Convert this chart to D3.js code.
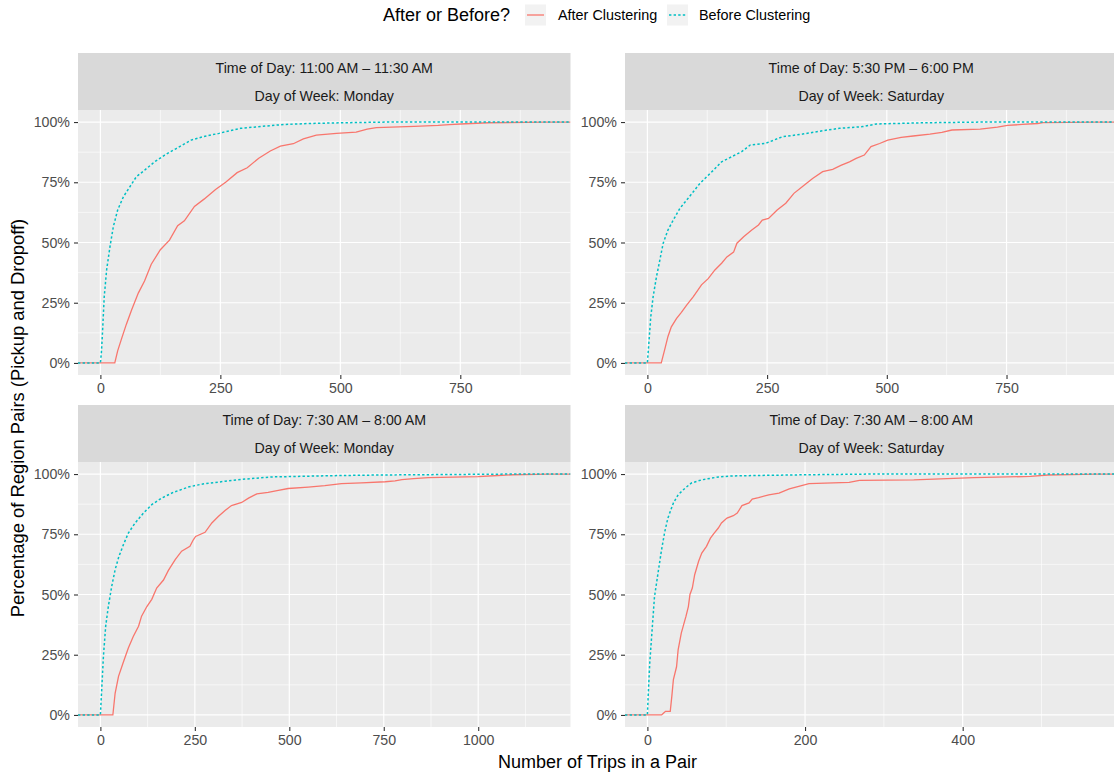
<!DOCTYPE html>
<html>
<head>
<meta charset="utf-8">
<title>ECDF of trips per region pair</title>
<script src="https://d3js.org/d3.v7.min.js"></script>
<style>
  body { margin: 0; padding: 0; background: #fff; overflow: hidden; }
  svg text { font-family: "Liberation Sans", Arial, Helvetica, sans-serif; }
</style>
</head>
<body>
<script>
// ---- data: [number of trips, cumulative %] ----
var tlAfter = [[30,0],[36,5],[44,10],[54,16],[65,22],[79,29],[92,34],[106,41],[125,47],[144,51],[161,57],[175,59],[196,65],[216,68],[240,72],[261,75],[285,79],[306,81],[330,85],[354,88],[375,90],[402,91],[423,93],[450,94.6],[492,95.3],[533,95.8],[556,97.1],[575,97.7],[654,98.2],[704,98.6],[727,98.9],[761,99.3],[809,99.7],[926,100]];
var tlBefore = [[0,0],[2,4],[4,11],[8,27.5],[13,38.6],[20,48.3],[27,56.6],[36,63.5],[48,69],[61,73],[75,77.3],[92,80],[113,83.5],[134,86.3],[158,89],[189,92.5],[216,94],[247,95.3],[292,97.4],[326,98],[382,99],[437,99.4],[505,99.7],[600,100]];

var trAfter = [[29,0],[36,5.4],[43,11],[50,15],[61,18.5],[71,21],[82,24],[96,27.5],[113,32.4],[127,35],[141,38.6],[155,41.4],[166,44],[180,46],[187,49.7],[201,52.4],[218,55.2],[232,57.3],[240,59.3],[253,60],[271,63.5],[289,66.3],[306,70.4],[324,73.2],[345,76.6],[366,79.4],[387,80.4],[404,82],[422,83.5],[436,84.9],[453,86.3],[467,89.8],[485,91.1],[502,92.5],[530,93.6],[555,94.2],[590,95],[615,95.7],[636,96.7],[695,97.1],[713,97.5],[731,97.9],[752,98.6],[783,99],[815,99.4],[826,99.8],[935,100]];
var trBefore = [[0,0],[3,8],[7,19],[12,27.5],[19,35.8],[26,42.7],[33,49.7],[43,55.2],[54,59.3],[68,64.2],[82,67.6],[96,71.1],[110,74.6],[124,77.3],[138,80],[155,83.5],[176,85.6],[197,87.7],[215,90.5],[246,91.1],[282,93.9],[324,95],[366,96.4],[401,97.4],[450,98.1],[478,99.2],[520,99.4],[576,99.7],[700,100]];

var blAfter = [[33,0],[39,9],[48,16],[60,21.6],[74,27.8],[87,32.6],[101,36.8],[109,41],[123,45],[136,48],[149,52.7],[167,56],[180,60],[198,64.5],[215,68],[237,70],[246,72.7],[252,74.1],[277,75.8],[295,79.7],[312,82.4],[330,84.9],[347,86.9],[374,88.2],[392,90],[414,91.8],[444,92.4],[471,93.2],[497,94],[550,94.6],[594,95.2],[638,96],[691,96.3],[754,96.8],[780,97.2],[798,97.7],[829,98.1],[868,98.5],[1000,98.9],[1053,99.4],[1093,99.7],[1185,100]];
var blBefore = [[0,0],[3.5,10.5],[8,24.3],[14,36.8],[21,45],[30,53.4],[39,60.3],[49,65.8],[61,70.7],[74,75.5],[92,79.7],[114,83.8],[136,87.3],[162,90],[193,92.4],[233,94.6],[268,95.8],[330,97],[383,97.9],[453,98.8],[515,99],[603,99.3],[735,99.6],[1093,100]];

var brAfter = [[18,0],[20,0.6],[23,1.5],[29,1.5],[31,7.7],[33,14.7],[37,20],[39,27],[43,34],[46,37.5],[49,41],[52,45],[54,50],[57,52.7],[60,58.2],[65,63.8],[69,67.2],[75,70],[80,73.4],[84,75.2],[90,77.6],[94,79.7],[101,81.7],[109,82.7],[114,83.8],[120,86.9],[129,88],[133,89.6],[141,90.2],[154,91.4],[167,92.1],[180,93.8],[192,94.9],[205,96],[256,96.5],[269,97.4],[338,97.6],[414,98.5],[486,99],[508,99.6],[568,100]];
var brBefore = [[0,0],[1,7.7],[3,21.6],[6,35.4],[9,49],[14,60],[18,68.6],[22,76],[26,81.7],[33,88],[39,91.4],[48,94.2],[56,96.3],[69,97.6],[90,98.8],[107,99.2],[137,99.4],[201,99.7],[286,100]];

var stripTimes = ["Time of Day: 11:00 AM \u2013 11:30 AM", "Time of Day: 5:30 PM \u2013 6:00 PM", "Time of Day: 7:30 AM \u2013 8:00 AM", "Time of Day: 7:30 AM \u2013 8:00 AM"];
var stripDays = ["Day of Week: Monday", "Day of Week: Saturday", "Day of Week: Monday", "Day of Week: Saturday"];
var xMaxes = [933, 935, 1185, 568];
var xTickSets = [[0,250,500,750], [0,250,500,750], [0,250,500,750,1000], [0,200,400]];
var yTicks = [0, 25, 50, 75, 100];
var seriesNames = ["After Clustering", "Before Clustering"];
var colors = ["#F8766D", "#00BFC4"];

var panels = [
  {after: tlAfter, before: tlBefore},
  {after: trAfter, before: trBefore},
  {after: blAfter, before: blBefore},
  {after: brAfter, before: brBefore}
];

// ---- layout ----
var W = 1114, H = 773;
var colX = [78, 625], panelW = 492.5;
var rowStrip = [53, 405], stripH = 57, panelH = 265;

var svg = d3.select("body").append("svg").attr("width", W).attr("height", H);

panels.forEach(function(p, i) {
  var col = i % 2, row = Math.floor(i / 2);
  var x0 = colX[col], sTop = rowStrip[row], pTop = sTop + stripH;
  var xm = xMaxes[i];
  var x = d3.scaleLinear().domain([-0.05 * xm, 1.05 * xm]).range([x0, x0 + panelW]);
  var y = d3.scaleLinear().domain([-5, 105]).range([pTop + panelH, pTop]);

  var g = svg.append("g");
  // strip
  g.append("rect").attr("x", x0).attr("y", sTop).attr("width", panelW).attr("height", stripH).attr("fill", "#d9d9d9");
  g.append("text").attr("x", x0 + panelW / 2).attr("y", sTop + 15).attr("dy", "0.35em")
    .attr("text-anchor", "middle").attr("font-size", 14.2).attr("fill", "#1a1a1a").text(stripTimes[i]);
  g.append("text").attr("x", x0 + panelW / 2).attr("y", sTop + 43).attr("dy", "0.35em")
    .attr("text-anchor", "middle").attr("font-size", 14.2).attr("fill", "#1a1a1a").text(stripDays[i]);

  // panel background
  g.append("rect").attr("x", x0).attr("y", pTop).attr("width", panelW).attr("height", panelH).attr("fill", "#ebebeb");

  var xt = xTickSets[i];
  var step = xt[1] - xt[0];
  var xMinor = [];
  for (var k = -1; k < xt.length + 1; k++) {
    var m = xt[0] + (k + 0.5) * step;
    if (m > x.domain()[0] && m < x.domain()[1]) xMinor.push(m);
  }
  var yMinor = [12.5, 37.5, 62.5, 87.5];

  g.selectAll(".ymin").data(yMinor).enter().append("line")
    .attr("x1", x0).attr("x2", x0 + panelW).attr("y1", d => y(d)).attr("y2", d => y(d))
    .attr("stroke", "#fff").attr("stroke-width", 0.6);
  g.selectAll(".xmin").data(xMinor).enter().append("line")
    .attr("y1", pTop).attr("y2", pTop + panelH).attr("x1", d => x(d)).attr("x2", d => x(d))
    .attr("stroke", "#fff").attr("stroke-width", 0.6);
  g.selectAll(".ymaj").data(yTicks).enter().append("line")
    .attr("x1", x0).attr("x2", x0 + panelW).attr("y1", d => y(d)).attr("y2", d => y(d))
    .attr("stroke", "#fff").attr("stroke-width", 1.2);
  g.selectAll(".xmaj").data(xt).enter().append("line")
    .attr("y1", pTop).attr("y2", pTop + panelH).attr("x1", d => x(d)).attr("x2", d => x(d))
    .attr("stroke", "#fff").attr("stroke-width", 1.2);

  // ecdf lines, extended to panel edges like stat_ecdf
  var clipId = "clip" + i;
  svg.append("clipPath").attr("id", clipId).append("rect")
    .attr("x", x0).attr("y", pTop).attr("width", panelW).attr("height", panelH);
  var line = d3.line().x(d => x(d[0])).y(d => y(d[1]));
  var lg = g.append("g").attr("clip-path", "url(#" + clipId + ")");
  [p.after, p.before].forEach(function(s, j) {
    var pts = [[x.domain()[0], 0]].concat(s).concat([[x.domain()[1], 100]]);
    lg.append("path").datum(pts).attr("d", line).attr("fill", "none")
      .attr("stroke", colors[j]).attr("stroke-width", j === 0 ? 1.3 : 1.5)
      .attr("stroke-dasharray", j === 0 ? null : "2.4,2.2");
  });

  // axes
  var xAxis = d3.axisBottom(x).tickValues(xt).tickSize(4).tickPadding(4).tickFormat(d3.format("d"));
  var ya = d3.axisLeft(y).tickValues(yTicks).tickSize(4).tickPadding(4).tickFormat(d => d + "%");
  var gx = g.append("g").attr("transform", "translate(0," + (pTop + panelH) + ")").call(xAxis);
  var gy = g.append("g").attr("transform", "translate(" + x0 + ",0)").call(ya);
  [gx, gy].forEach(function(a) {
    a.select(".domain").remove();
    a.selectAll(".tick line").attr("stroke", "#333").attr("stroke-width", 1.1);
    a.selectAll(".tick text").attr("fill", "#4d4d4d").attr("font-size", 14.2)
      .attr("font-family", "'Liberation Sans', Arial, Helvetica, sans-serif");
  });
});

// axis titles
svg.append("text").attr("x", 597.5).attr("y", 768).attr("text-anchor", "middle")
  .attr("font-size", 18).attr("fill", "#000").text("Number of Trips in a Pair");
svg.append("text").attr("transform", "translate(24,418) rotate(-90)").attr("text-anchor", "middle")
  .attr("font-size", 18.4).attr("fill", "#000").text("Percentage of Region Pairs (Pickup and Dropoff)");

// legend
var lgd = svg.append("g");
lgd.append("text").attr("x", 383).attr("y", 15).attr("dy", "0.35em").attr("font-size", 18)
  .attr("fill", "#000").text("After or Before?");
var keyX = [525, 667], labX = [558, 699];
seriesNames.forEach(function(name, j) {
  lgd.append("rect").attr("x", keyX[j]).attr("y", 4.5).attr("width", 21).attr("height", 21).attr("fill", "#f2f2f2");
  lgd.append("line").attr("x1", keyX[j] + 2).attr("x2", keyX[j] + 19).attr("y1", 15).attr("y2", 15)
    .attr("stroke", colors[j]).attr("stroke-width", j === 0 ? 1.3 : 1.5)
    .attr("stroke-dasharray", j === 0 ? null : "2.4,2.2");
  lgd.append("text").attr("x", labX[j]).attr("y", 15).attr("dy", "0.35em").attr("font-size", 14.4)
    .attr("fill", "#000").text(name);
});
</script>
</body>
</html>
